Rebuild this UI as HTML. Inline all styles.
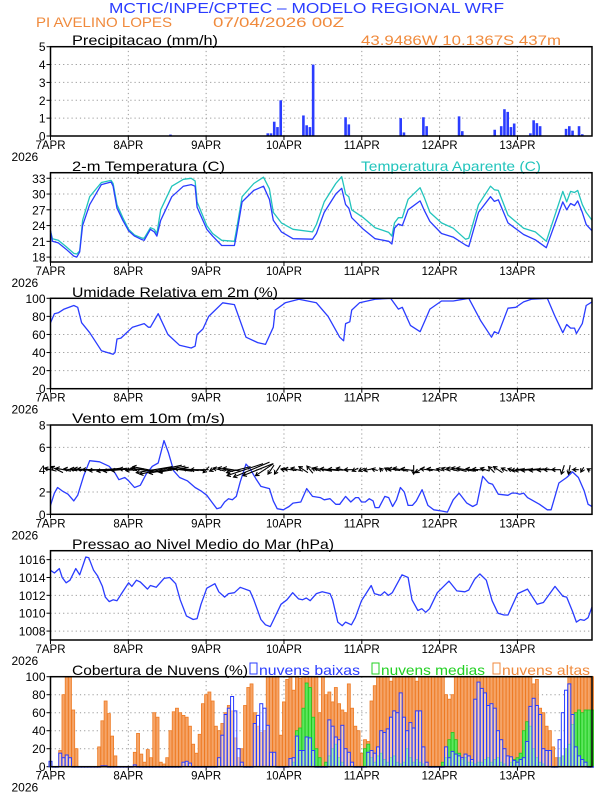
<!DOCTYPE html>
<html><head><meta charset="utf-8"><style>
html,body{margin:0;padding:0;background:#fff;}
svg{display:block;font-family:"Liberation Sans",Arial,sans-serif;}
</style></head>
<body>
<svg id="chart" width="612" height="792" viewBox="0 0 612 792" xmlns="http://www.w3.org/2000/svg">
<text x="109" y="13" font-size="15" fill="#2a3cff" textLength="395" lengthAdjust="spacingAndGlyphs">MCTIC/INPE/CPTEC – MODELO REGIONAL WRF</text>
<text x="36" y="27" font-size="14" fill="#f08a3c" textLength="136" lengthAdjust="spacingAndGlyphs">PI AVELINO LOPES</text>
<text x="213" y="27" font-size="14" fill="#f08a3c" textLength="131" lengthAdjust="spacingAndGlyphs">07/04/2026 00Z</text>
<text x="361" y="45" font-size="14" fill="#f08a3c" textLength="200" lengthAdjust="spacingAndGlyphs">43.9486W 10.1367S 437m</text>
<text x="72" y="45" font-size="14" fill="#000" textLength="146" lengthAdjust="spacingAndGlyphs">Precipitacao (mm/h)</text>
<text x="72" y="171" font-size="14" fill="#000" textLength="153" lengthAdjust="spacingAndGlyphs">2-m Temperatura (C)</text>
<text x="361" y="171" font-size="14" fill="#22c4bc" textLength="180" lengthAdjust="spacingAndGlyphs">Temperatura Aparente (C)</text>
<text x="72" y="297" font-size="14" fill="#000" textLength="206" lengthAdjust="spacingAndGlyphs">Umidade Relativa em 2m (%)</text>
<text x="72" y="423" font-size="14" fill="#000" textLength="153" lengthAdjust="spacingAndGlyphs">Vento em 10m (m/s)</text>
<text x="72" y="549" font-size="14" fill="#000" textLength="262" lengthAdjust="spacingAndGlyphs">Pressao ao Nivel Medio do Mar (hPa)</text>
<text x="72" y="675" font-size="14" fill="#000" textLength="176" lengthAdjust="spacingAndGlyphs">Cobertura de Nuvens (%)</text>
<rect x="250" y="663" width="7" height="11" fill="#fff" stroke="#2a3cff" stroke-width="1"/>
<text x="259" y="675" font-size="14" fill="#2a3cff" textLength="101" lengthAdjust="spacingAndGlyphs">nuvens baixas</text>
<rect x="372" y="663" width="7" height="11" fill="#fff" stroke="#22d022" stroke-width="1"/>
<text x="381" y="675" font-size="14" fill="#22d022" textLength="104" lengthAdjust="spacingAndGlyphs">nuvens medias</text>
<rect x="493" y="663" width="7" height="11" fill="#fff" stroke="#f08a3c" stroke-width="1"/>
<text x="502" y="675" font-size="14" fill="#f08a3c" textLength="88" lengthAdjust="spacingAndGlyphs">nuvens altas</text>
</svg>
<script>
// ---------- data ----------
const dayLabels=["7APR","8APR","9APR","10APR","11APR","12APR","13APR"];
const precipTicks=[0,1,2,3,4,5];
const tempTicks=[18,21,24,27,30,33];
const rhTicks=[0,20,40,60,80,100];
const windTicks=[0,2,4,6,8];
const presTicks=[1008,1010,1012,1014,1016];
const cloudTicks=[0,20,40,60,80,100];

const precipHours=[37,67,68,69,70,71,78,79,80,81,91,92,108,109,115,116,126,127,137,139,140,141,142,143,148,149,150,151,159,160,161,163,164];
const precipValues=[0.08,0.15,0.15,0.8,0.5,2.0,1.15,0.6,0.5,4.0,1.05,0.65,1.0,0.2,1.05,0.55,1.1,0.27,0.35,0.55,1.5,1.35,0.5,0.7,0.15,0.88,0.72,0.55,0.4,0.55,0.3,0.55,0.1];

const tempHours=[0,0.6,2.4,4.8,7.2,8.1,9,9.9,12.1,15.7,18.7,19.3,20.5,22.3,24.1,25.9,28.3,28.9,30.8,32,32.8,34,37.4,41,43.4,44.6,45.2,48.2,50,52.8,56.7,57.3,59.1,62.7,65.7,67.5,68.7,71.2,74.8,80.8,82,84.4,88,89.8,91,92,92.9,96.5,100.1,104.3,105.3,106.1,107.3,108.5,110.3,114,115.2,117,120.6,124.2,128,129,132,135.7,136.9,138.1,141.1,145.9,149.5,152.9,158,159.2,160.4,161.6,162.6,164,165.2,167];
const tempValues=[23,21,20.7,19.5,18.2,18,19,24,28,31.8,32.3,31.5,27.3,25,23,22,21.3,21.2,23.3,22.8,22,25,29.5,31.5,31.8,31.5,27.5,23.3,22,20.2,20.2,22,28.5,30.7,31.5,29,25,22.8,21.5,21.4,22.5,26.5,30,31.1,28,27.3,25.5,23.3,21.5,21,20.5,23.5,24.3,24,27,28.7,27,24.8,22.5,21.8,20.3,20,26.5,29.5,28.6,28.9,24.5,22.3,21.3,19.8,28.5,27,28.2,27.8,28.7,26.5,24.2,23];
const apparentValues=[23,21.5,21.2,20,18.7,18.6,19.2,25,29.5,32.2,32.6,32,28,25.5,23.3,22.2,21.6,21.6,23.6,23.3,22.5,27,31.5,32.8,33,32.5,28.5,24,22.5,21.2,21,23,29.5,32,33.2,31,26.5,24.5,23.3,22.8,24.2,28.5,32,33.3,30,29.5,27,25.5,23.6,22.7,22,24.5,25.5,25.5,29,31.2,29.5,26.5,24.5,23.5,21.4,21.6,28,31.5,30.8,30.7,26,23.5,22.8,21,30.5,28.5,30.5,30.3,30.7,28,26.5,25];

const rhHours=[0,1.2,2.4,4.2,7.2,8.4,9.6,12.1,15.7,19.3,19.9,20.5,21.7,25.3,28.9,30.2,30.8,33.2,36.2,39.8,43.4,44.6,45.2,47,48.8,53.1,56.7,60.3,63.9,66.3,68.7,69.3,72.4,76.6,82,85.6,89.2,90.4,91,92.3,92.9,95.3,100.1,104.9,107.3,108.5,111,114,115.8,117,120.6,124.2,129,132.7,136,136.9,138.1,141.1,143.5,145.9,148.3,153.2,155.6,158,159.2,160.4,161.6,162.2,164,165.2,167];
const rhValues=[73,83,84,88,92,90,73,62,42,38,40,55,56,68,72,68,68,83,60,48,45,47,60,66,80,95,93,57,51,49,68,87,95,99,95,80,57,53,72,74,87,95,99,100,88,90,70,63,78,88,97,97,100,75,57,63,61,89,90,96,99,100,80,62,71,67,67,61,72,92,96];

const windHours=[0,1.2,2.2,3.6,5.4,7.2,8.4,10.3,12.1,15.1,18.1,19.9,21.1,22.9,24.1,25.9,27.7,29.5,31.4,33.2,35,36.4,38,39.8,42.2,44.6,46.4,48.2,50,51.3,52.5,53.7,54.9,56.1,57.3,58.5,60.3,61.5,63.3,64.9,67.5,68.7,69.9,71.8,73.6,74.8,77.2,79,80.8,83.2,84.4,86.2,88,89.2,91,92.6,94.1,95,95.9,97.1,98.3,99.5,100.1,101.3,103.1,104.3,105.5,106.7,107.9,109.1,110.3,111.6,112.8,114.6,116.4,118.2,120.6,122.4,124.2,126,128.4,130.2,131.5,133.3,135.1,136.3,138.1,141.1,142.3,143.5,144.7,145.9,147.1,150.8,153.2,154.4,156.8,159.2,161,162.8,164.6,165.8,167];
const windSpeed=[0.8,1.9,2.4,2.1,1.8,1.2,1.7,3.5,4.8,4.7,4.3,3.7,3.1,3.3,3.0,2.4,2.6,3.6,4.3,4.6,6.6,5.5,3.9,3.3,3.0,2.4,2.1,1.7,1.0,0.5,0.6,1.1,1.4,1.3,1.6,2.9,4.5,4.1,3.2,2.5,2.3,1.2,0.5,0.4,0.7,1.0,1.1,2.3,1.6,1.5,1.3,1.4,0.9,0.9,1.6,1.1,1.5,1.5,1.1,1.1,1.4,1.2,0.6,0.6,1.6,1.5,0.7,1.3,2.4,2.0,0.8,0.8,1.2,2.2,0.8,0.4,0.3,0.2,1.3,1.9,1.0,0.7,0.9,3.4,2.8,2.7,1.8,1.7,1.9,1.9,1.8,1.9,1.5,0.9,0.4,0.4,2.8,3.3,3.8,3.3,2.1,0.9,0.7];

const vecU=[-2,-2,-2.5,-2,-2,-3,-4,-4.5,-4.5,-4,-4,-3.5,
 -3,-3,-3.5,-5,-6,-7,-6,-5,-4,-4,-3.5,-3,
 -1,-1,-2,-2.5,-3,-4,-6,-6,-5,-3,-1,-1,
 -1,-2,-2,-1.5,-1,-1.5,-3,-3,-2.5,-2,-1.5,-1,
 -1,-1.5,-1,-0.5,-1,-2,-2.5,-2,0,-1.5,-2,-2,
 -1,-1.5,-2,-2.5,-3,-2,-2,-1.5,-1,-1.5,-1,-1,
 -2,-3,-3,-2.5,-2,-2,-1.5,-0.5,-0.3,-1,-0.5,-0.5];
const vecV=[0.5,1,0.5,0.3,0.3,0.3,0.2,0,-0.3,-0.5,-0.5,-0.3,
 0.3,-0.3,0.5,1,-1,-1.5,-1.2,-0.8,0.5,0.3,0.3,0,
 -1,-0.5,0.5,0.6,0.5,-1,-2,-2.5,-2,-2,-1.5,-1.5,
 0.2,0.3,0.5,1,1.2,0.5,0.5,0.3,0.2,0.5,0,-0.5,
 -0.5,-0.3,0.3,0.5,0.5,0.3,0.5,0.3,-1.5,-1,0.3,0.3,
 0.3,0.5,0.5,0.6,0.5,0.3,0.2,0.5,1,1,0.5,0.3,
 -0.3,-0.3,-0.3,-0.3,-0.2,0,0,-1.5,-1.5,0,-0.8,0.3];

const presHours=[0,1.2,2.7,3.6,4.8,6,7.8,9,10.9,11.8,13.3,14.5,16,16.9,18.1,19.3,20.5,21.9,24.1,25.1,26.5,27.7,29.9,30.8,32.6,35,36.8,38.6,40,41.9,44,45.2,46.4,48.2,50.7,51.9,53.7,54.9,56.7,58.5,61.5,62.7,64.9,66.3,67.8,68.7,71.1,72.9,74.7,76.5,77.7,78.9,80.1,82,83.8,86.2,87,88.6,90,91,92.8,94,95.9,98.9,99.9,101.8,103,104.2,105.4,108.4,110.3,111.5,113.3,114.5,115.7,116.9,119.3,122.9,125.3,127.8,129,130.8,132.4,134.4,136.2,138,139.9,141.1,144.1,147.1,150.1,152,155.6,158,159.2,161,162.2,163.4,164.6,165.8,167];
const presValues=[1014.8,1014.5,1015,1014,1013.4,1013.7,1015,1014.3,1016.3,1016.2,1014.8,1014.2,1013,1011.8,1011.3,1011.5,1011.4,1012.2,1013.4,1013,1013.7,1013.5,1012.7,1013.1,1012.9,1013.9,1014,1013.3,1011.5,1009.7,1009.3,1009.4,1011,1012.8,1013.3,1012.4,1011.8,1012.2,1012.3,1012.9,1012.5,1011.5,1009.3,1008.7,1008.5,1009.2,1011,1011.5,1012.3,1011.6,1011.5,1011.7,1011.4,1012.2,1012.4,1012.2,1011.5,1009,1008.6,1009,1008.7,1009.5,1011.4,1013.1,1012.2,1012,1012.4,1012,1012.3,1014.3,1014,1011.5,1010.3,1010.5,1010.1,1010.5,1012.3,1013.6,1012.5,1012.4,1012.6,1013.8,1014.4,1013.7,1011.4,1010,1009.8,1009.8,1012.2,1012.7,1011,1011.2,1013,1011.9,1011.8,1010.2,1009,1009.3,1009.2,1009.5,1010.7];

const cloudHigh=[0,0,0,18,80,100,100,63,20,0,0,0,0,0,0,22,51,73,59,34,12,0,0,0,
 0,0,16,37,14,5,19,10,60,55,5,3,10,40,61,65,60,57,55,45,25,15,36,70,
 80,83,73,45,40,48,60,68,62,32,10,20,68,88,92,60,45,38,40,100,100,100,100,35,
 72,97,100,85,100,98,100,100,100,100,100,60,100,80,83,72,88,70,63,60,92,65,45,40,
 15,30,28,73,90,100,100,100,100,95,100,100,100,100,100,100,100,95,100,100,100,100,100,100,
 100,100,80,75,80,100,100,100,100,100,100,100,100,100,100,100,100,100,100,100,100,100,100,100,
 100,100,100,100,100,92,97,65,60,45,40,22,10,0,0,0,100,100,100,100,100,100,100,100];
const cloudLow=[6,0,0,15,10,13,10,0,0,0,0,0,0,0,0,0,1,1,0,0,0,0,0,0,
 0,0,2,0,0,0,0,0,0,0,0,0,0,0,0,0,0,5,6,4,0,0,0,0,
 0,0,0,0,10,35,58,65,78,62,20,5,0,0,0,48,57,70,65,46,16,16,0,0,
 0,0,9,10,34,18,18,33,32,18,0,0,0,0,52,45,33,30,46,20,16,5,0,0,
 0,0,16,18,15,22,40,38,42,55,62,60,82,55,40,49,43,62,62,22,5,0,0,0,
 0,0,22,10,17,14,12,10,14,12,8,75,94,87,82,68,70,65,40,30,20,12,11,7,
 5,8,10,28,67,76,68,58,20,18,18,0,0,30,60,85,92,58,22,12,8,5,0,0];
const cloudMid=[0,0,0,0,0,0,0,0,0,0,0,0,0,0,0,0,0,0,0,0,0,0,0,0,
 0,0,0,0,0,0,0,0,0,0,0,0,0,0,0,0,0,0,0,0,0,0,0,0,
 0,0,0,0,0,0,0,0,0,0,0,0,0,0,0,0,0,0,0,0,0,0,0,0,
 0,0,0,5,40,43,65,93,88,55,20,10,0,5,12,20,25,10,5,0,0,0,0,0,
 0,20,25,10,5,12,15,8,5,10,12,5,3,5,20,10,5,8,5,3,0,0,0,0,
 0,5,10,30,38,30,15,8,10,5,5,3,5,5,8,10,5,8,10,5,3,0,5,8,
 10,15,40,50,45,20,10,5,3,0,0,0,0,10,12,20,25,47,60,63,60,63,63,63];

// ---------- layout ----------
const NS="http://www.w3.org/2000/svg";
const svg=document.getElementById('chart');
const L=50.5,R=592,H0=0,H1=167;
function X(h){return L+(h-H0)/(H1-H0)*(R-L);}
const panels={
 precip:{top:46.7,bot:136,min:0,max:5,ticks:precipTicks},
 temp:{top:172.7,bot:262,min:17.07,max:34.06,ticks:tempTicks},
 rh:{top:298.3,bot:388.7,min:0,max:100,ticks:rhTicks},
 wind:{top:425,bot:514.3,min:0,max:8,ticks:windTicks},
 pres:{top:550.7,bot:640,min:1007,max:1017,ticks:presTicks},
 cloud:{top:676.7,bot:766.7,min:0,max:100,ticks:cloudTicks}
};
function Y(p,v){return p.bot-(v-p.min)/(p.max-p.min)*(p.bot-p.top);}
function mk(tag,attrs,parent){const e=document.createElementNS(NS,tag);for(const k in attrs)e.setAttribute(k,attrs[k]);(parent||svg).appendChild(e);return e;}

for(const key in panels){
 const p=panels[key];
 const g=mk('g',{});
 
 
 p.g=g;
 for(let d=1;d<7;d++){
  const gl=mk('line',{x1:X(d*24),x2:X(d*24),y1:p.top,y2:p.bot,stroke:'#9a9a9a','stroke-width':1,'stroke-dasharray':'1.2,3'},g);
  
  
 }
 p.ticks.forEach(t=>{
  const y=Y(p,t);
  const gl=mk('line',{x1:L,x2:R,y1:y,y2:y,stroke:'#9a9a9a','stroke-width':1,'stroke-dasharray':'1.2,3'},g);
  
  
  const tk=mk('line',{x1:L-4,x2:L,y1:y,y2:y,stroke:'#000','stroke-width':1},g);
  
  
  const tl=mk('text',{x:L-5,y:y+4.5,'font-size':12,'text-anchor':'end',fill:'#000'},g);
  
  
  tl.textContent=t;
 });
 dayLabels.forEach((lab,i)=>{
  const x=X(i*24);
  const tk=mk('line',{x1:x,x2:x,y1:p.bot,y2:p.bot+4,stroke:'#000','stroke-width':1},g);
  
  
  const tl=mk('text',{x:x,y:p.bot+13,'font-size':12,'text-anchor':'middle',fill:'#000',textLength:lab.length>4?36:30,lengthAdjust:'spacingAndGlyphs'},g);
  
  
  tl.textContent=lab;
 });
 const yr=mk('text',{x:L-39,y:p.bot+25,'font-size':12,fill:'#000'},g);
 
 
 yr.textContent='2026';
}

function line(p,hours,vals,color,name){
 const pts=hours.map((h,i)=>X(h).toFixed(1)+','+Y(p,vals[i]).toFixed(1)).join(' ');
 const pl=mk('polyline',{points:pts,fill:'none',stroke:color,'stroke-width':1.3,'stroke-linejoin':'round'},p.g);
 
 
}

precipHours.forEach((h,i)=>{
 const p=panels.precip,y=Y(p,precipValues[i]);
 const r=mk('rect',{x:X(h)-1.3,y:y,width:2.6,height:p.bot-y,fill:'#2a3cff'},p.g);
 
 
});

line(panels.temp,tempHours,apparentValues,'#22c4bc','apparent-temp-line');
line(panels.temp,tempHours,tempValues,'#2a3cff','temp-line');
line(panels.rh,rhHours,rhValues,'#2a3cff','rh-line');
line(panels.wind,windHours,windSpeed,'#2a3cff','wind-speed-line');
line(panels.pres,presHours,presValues,'#2a3cff','pressure-line');

vecU.forEach((u,i)=>{
 const p=panels.wind,v=vecV[i],k=6;
 const cx=X(i*2),cy=Y(p,4);
 const dx=u*k,dy=-v*k;
 const x1=cx-dx/2,y1=cy-dy/2,x2=cx+dx/2,y2=cy+dy/2;
 const len=Math.hypot(dx,dy)||1,ux=dx/len,uy=dy/len,hs=3.5;
 const a=mk('path',{d:`M${x1},${y1}L${x2},${y2}M${x2-hs*ux+hs*0.6*uy},${y2-hs*uy-hs*0.6*ux}L${x2},${y2}L${x2-hs*ux-hs*0.6*uy},${y2-hs*uy+hs*0.6*ux}`,stroke:'#000','stroke-width':1.1,fill:'none'},p.g);
 
 
});

const pc=panels.cloud;
cloudHigh.forEach((v,h)=>{
 if(v<=0)return;
 const y=Y(pc,v);
 const r=mk('rect',{x:X(h)-1.5,y:y,width:3,height:pc.bot-y,fill:'#f5a468',stroke:'#ee7a22','stroke-width':0.8},pc.g);
 
 
});
cloudMid.forEach((v,h)=>{
 if(v<=0)return;
 const y=Y(pc,v);
 const r=mk('rect',{x:X(h)-1.5,y:y,width:3,height:pc.bot-y,fill:'#5ee65e',stroke:'#1ec81e','stroke-width':0.8},pc.g);
 
 
});
cloudLow.forEach((v,h)=>{
 const y=Y(pc,v);
 const r=mk('rect',{x:X(h)-1.5,y:y,width:3,height:Math.max(pc.bot-y,0.5),fill:'rgba(255,255,255,0.45)',stroke:'#2a3cff','stroke-width':1},pc.g);
 
 
});

for(const key in panels){
 const p=panels[key];
 const f=mk('rect',{x:L,y:p.top,width:R-L,height:p.bot-p.top,fill:'none',stroke:'#000','stroke-width':1.5});
 
 
}
</script>
</body></html>
